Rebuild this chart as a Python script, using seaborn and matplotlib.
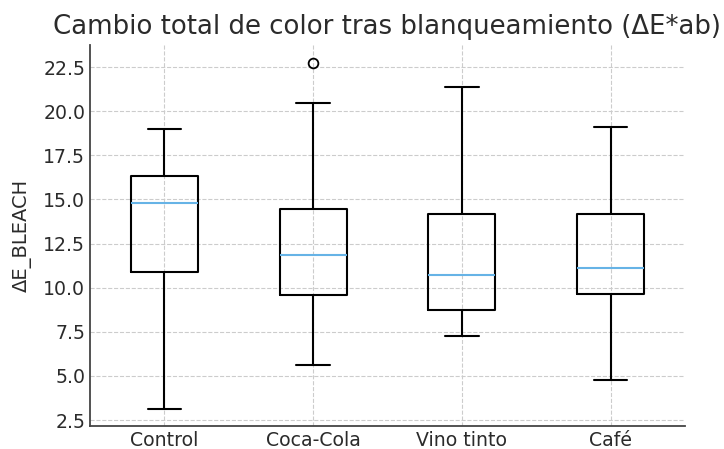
import matplotlib
matplotlib.use("Agg")
import matplotlib.pyplot as plt
import seaborn as sns
import pandas as pd

categories = ["Control", "Coca-Cola", "Vino tinto", "Café"]
control = [3.12, 10.89, 14.79, 16.32, 18.99]
coca_cola = [5.62, 9.0, 9.58, 10.6, 11.85, 13.0, 14.45, 20.46, 22.73]
vino_tinto = [7.26, 8.73, 10.72, 14.17, 21.37]
cafe = [4.77, 9.64, 11.11, 14.17, 19.10]
yticks = [2.5, 5.0, 7.5, 10.0, 12.5, 15.0, 17.5, 20.0, 22.5]

series = [control, coca_cola, vino_tinto, cafe]
df = pd.DataFrame({
    "grupo": [c for c, s in zip(categories, series) for _ in s],
    "dE": [v for s in series for v in s],
})

sns.set_style("white")
plt.rcParams["font.family"] = ["DejaVu Sans"]
text_color = "#2b2b2b"

fig = plt.figure(figsize=(7.24, 4.49), dpi=100)
ax = fig.add_axes([0.1243, 0.0512, 0.8217, 0.8486])

sns.boxplot(
    data=df, x="grupo", y="dE", order=categories, ax=ax,
    width=0.45, fill=False, color="black", linewidth=1.5, whis=1.5,
    medianprops=dict(color="#66b3e6", linewidth=1.5),
    flierprops=dict(marker="o", markerfacecolor="none", markeredgecolor="black",
                    markersize=7, markeredgewidth=1.3),
)

ax.set_xlim(-0.5, 3.5)
ax.set_ylim(2.16, 23.75)
ax.set_yticks(yticks)
ax.set_yticklabels([f"{t:.1f}" for t in yticks])
ax.grid(True, linestyle="--", color="#cccccc", linewidth=0.8)
ax.set_axisbelow(True)
for side in ["top", "right"]:
    ax.spines[side].set_visible(False)
for side in ["left", "bottom"]:
    ax.spines[side].set_color("#444444")
    ax.spines[side].set_linewidth(1.3)
ax.tick_params(axis="both", direction="in", length=5, width=1, colors="#444444",
               labelsize=13.6, labelcolor=text_color)
ax.set_xlabel("")
ax.set_ylabel("ΔE_BLEACH", fontsize=14, color=text_color, labelpad=8)
ax.set_title("Cambio total de color tras blanqueamiento (ΔE*ab)", fontsize=18.7,
             color=text_color, pad=8)

fig.savefig("out.png", dpi=100)
